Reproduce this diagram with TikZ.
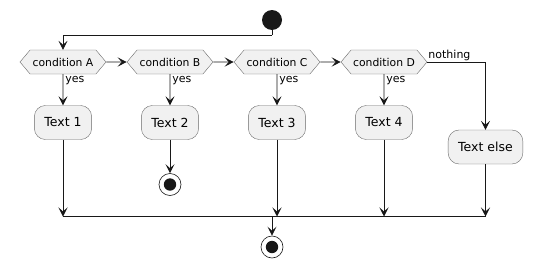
\documentclass[tikz,border=0pt]{standalone}
\usepackage{fontspec}
\setmainfont{DejaVu Sans}
\usetikzlibrary{arrows.meta,shapes.symbols,calc}
\definecolor{ink}{HTML}{181818}
\definecolor{actbg}{HTML}{F1F1F1}
\tikzset{
  cond/.style={shape=signal,signal to=west and east,signal pointer angle=100,
    draw=ink!65,fill=actbg,minimum height=24pt,minimum width=86pt,
    inner xsep=0pt,font=\fontsize{10.8}{12}\selectfont},
  act/.style={rectangle,rounded corners=11pt,draw=ink!65,fill=actbg,
    minimum height=34pt,inner xsep=10pt,font=\fontsize{12.5}{14}\selectfont},
  startdot/.style={circle,fill=ink,minimum size=20pt,inner sep=0pt},
  stopdot/.style={circle,draw=ink,line width=0.6pt,fill=white,minimum size=22pt,
    inner sep=0pt,path picture={\fill[ink] (path picture bounding box.center) circle (6.2pt);}},
  ar/.style={-{Stealth[length=9pt,width=9pt,inset=4pt]},draw=ink,line width=0.8pt},
  ln/.style={draw=ink,line width=0.8pt},
  lbl/.style={font=\fontsize{11}{12}\selectfont,inner sep=0pt},
}
\begin{document}
\begin{tikzpicture}[x=1pt,y=-1pt]
  \useasboundingbox (0,0) rectangle (533,268);
  % start
  \node[startdot] (start) at (272,20) {};
  \coordinate (split) at (272,35);
  % conditions
  \node[cond] (ca) at (63,62) {condition A};
  \node[cond] (cb) at (170,62) {condition B};
  \node[cond] (cc) at (277,62) {condition C};
  \node[cond] (cd) at (384,62) {condition D};
  \draw[ln] (start) -- (split);
  \draw[ar] (split) -| (ca);
  \draw[ar] (ca) -- (cb); \draw[ar] (cb) -- (cc); \draw[ar] (cc) -- (cd);
  % branches
  \node[act] (t1) at (63,122.5) {Text 1};
  \node[act] (t2) at (170,122.5) {Text 2};
  \node[act] (t3) at (277,122.5) {Text 3};
  \node[act] (t4) at (384,122.5) {Text 4};
  \node[act] (te) at (485.5,147) {Text else};
  \draw[ar] (ca) -- node[lbl,right=2pt,pos=0.22] {yes} (t1);
  \draw[ar] (cb) -- node[lbl,right=2pt,pos=0.22] {yes} (t2);
  \draw[ar] (cc) -- node[lbl,right=2pt,pos=0.22] {yes} (t3);
  \draw[ar] (cd) -- node[lbl,right=2pt,pos=0.22] {yes} (t4);
  \draw[ar] (cd.east) -| (te);
  \node[lbl,anchor=south west] (nothing) at ($(cd.east)+(1,-1.5)$) {nothing};
  \node[stopdot] (stop2) at (170,184.5) {};
  \draw[ar] (t2) -- (stop2);
  % merge
  \coordinate (m1) at (63,216.5);
  \coordinate (m3) at (277,216.5);
  \coordinate (m4) at (384,216.5);
  \coordinate (me) at (485.5,216.5);
  \coordinate (mc) at (272,216.5);
  \draw[ar] (t1) -- (m1); \draw[ar] (t3) -- (m3);
  \draw[ar] (t4) -- (m4); \draw[ar] (te) -- (me);
  \draw[ln] (m1) -- (me);
  \node[stopdot] (stop) at (272,247) {};
  \draw[ar] (mc) -- (stop);
\end{tikzpicture}
\end{document}
